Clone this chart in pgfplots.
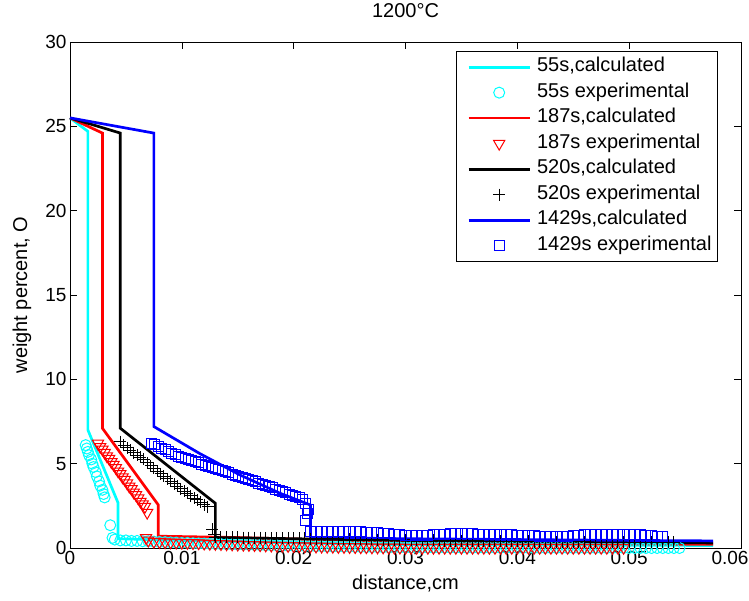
\documentclass[border=0pt]{standalone}
\usepackage{fontspec}
\setmainfont{Liberation Sans}
\usepackage{pgfplots}
\pgfplotsset{compat=1.18}
\definecolor{mcyan}{rgb}{0,1,1}
\definecolor{mred}{rgb}{1,0,0}
\definecolor{mblue}{rgb}{0,0,1}
\newcommand{\f}{\fontsize{19}{22}\selectfont}
\newcommand{\fl}{\fontsize{20}{23}\selectfont}
\begin{document}
\begin{tikzpicture}
\begin{axis}[
 scale only axis, width=671pt, height=506pt,
 xmin=0, xmax=0.06, ymin=0, ymax=30,
 scaled x ticks=false, scaled y ticks=false,
 xtick={0,0.01,0.02,0.03,0.04,0.05,0.06},
 xticklabels={0,0.01,0.02,0.03,0.04,0.05,\hspace*{-22pt}0.06},
 ytick={0,5,10,15,20,25,30},
 yticklabels={0,5,10,15,20,25,30},
 tick align=inside, major tick length=7pt,
 tick style={black, line width=0.6pt},
 axis line style={line width=0.8pt},
 tick label style={font=\f},
 clip=false,
 title={1200°C},
 title style={at={(rel axis cs:0.5,1.0494)}, anchor=center, font=\fl},
 xlabel={distance,cm},
 xlabel style={at={(rel axis cs:0.5,-0.0711)}, anchor=center, font=\fl},
 ylabel={weight percent, O},
 ylabel style={at={(rel axis cs:-0.0715,0.5)}, anchor=center, font=\fl},
 legend style={at={(rel axis cs:1,1)}, anchor=north east, xshift=-23pt, yshift=-9pt,
   draw=black, line width=0.8pt, font=\fl, inner xsep=0pt, inner ysep=4pt, row sep=2pt,
   nodes={inner xsep=6pt, inner ysep=2pt, text height=14.5pt, text depth=5pt}},
 legend cell align=left,
 legend image code/.code={\path[draw=none,fill=none] (0pt,0pt) -- (74pt,0pt);\draw[mark repeat=2,mark phase=2,#1] plot coordinates {(12pt,0pt) (42.5pt,0pt) (73pt,0pt)};},
]
% 55s calculated
\addplot[mcyan, line width=2.7pt, mark=none] coordinates {
(0,25.5)(0.0016,24.7)(0.0016,7.0)(0.0043,2.67)(0.0043,0.55)(0.01,0.45)(0.02,0.30)(0.03,0.20)(0.0575,0.15)};
\addlegendentry{55s,calculated}
% 55s experimental
\addplot[mcyan, only marks, mark=o, mark size=5.5pt, line width=1pt] coordinates {
(0.0014,6.10)(0.0015,5.90)(0.0016,5.70)(0.0017,5.50)(0.0019,5.25)(0.0020,5.00)(0.0021,4.80)(0.0023,4.50)(0.0024,4.25)(0.0026,3.95)(0.0027,3.70)(0.0029,3.45)(0.0030,3.20)(0.0031,3.00)(0.0036,1.35)(0.0038,0.60)
(0.0040,0.50)(0.0045,0.45)(0.0050,0.45)(0.0055,0.42)(0.0060,0.42)(0.0065,0.40)(0.0070,0.40)(0.0075,0.38)(0.0080,0.36)(0.0085,0.35)(0.0090,0.33)(0.0095,0.32)
(0.0100,0.30)(0.0105,0.30)(0.0110,0.28)(0.0115,0.27)(0.0120,0.26)(0.0125,0.25)(0.0130,0.24)(0.0135,0.23)(0.0140,0.22)(0.0145,0.21)
(0.0150,0.20)(0.0155,0.20)(0.0160,0.19)(0.0165,0.18)(0.0170,0.17)(0.0175,0.16)(0.0180,0.16)(0.0185,0.15)(0.0190,0.14)(0.0195,0.13)
(0.0200,0.13)(0.0205,0.12)(0.0210,0.11)(0.0215,0.11)(0.0220,0.10)(0.0225,0.10)(0.0230,0.09)(0.0235,0.08)(0.0240,0.08)(0.0245,0.07)
(0.0250,0.07)(0.0255,0.06)(0.0260,0.06)(0.0265,0.05)(0.0270,0.05)(0.0275,0.05)(0.0280,0.04)(0.0285,0.04)(0.0290,0.04)(0.0295,0.03)
(0.0300,0.03)(0.0305,0.03)(0.0310,0.02)(0.0315,0.02)(0.0320,0.02)(0.0325,0.02)(0.0330,0.02)(0.0335,0.02)(0.0340,0.02)(0.0345,0.02)
(0.0350,0.01)(0.0355,0.01)(0.0360,0.01)(0.0365,0.01)(0.0370,0.01)(0.0375,0.01)(0.0380,0.01)(0.0385,0.01)(0.0390,0.01)(0.0395,0.01)
(0.0400,0.00)(0.0405,0.00)(0.0410,0.00)(0.0415,0.00)(0.0420,0.00)(0.0425,0.00)(0.0430,0.00)(0.0435,0.00)(0.0440,0.00)(0.0445,0.00)
(0.0450,0.00)(0.0455,0.00)(0.0460,0.00)(0.0465,0.00)(0.0470,0.00)(0.0475,0.00)(0.0480,0.00)(0.0485,0.00)(0.0490,0.00)(0.0495,0.00)
(0.0500,0.00)(0.0505,0.00)(0.0510,0.00)(0.0515,0.00)(0.0520,0.00)(0.0525,0.00)(0.0530,0.00)(0.0535,0.00)(0.0540,0.00)(0.0545,0.00)};
\addlegendentry{55s experimental}
% 187s calculated
\addplot[mred, line width=2.7pt, mark=none] coordinates {
(0,25.5)(0.0029,24.6)(0.0029,7.1)(0.0079,2.55)(0.0079,0.70)(0.015,0.62)(0.025,0.45)(0.035,0.30)(0.045,0.25)(0.0575,0.22)};
\addlegendentry{187s,calculated}
% 187s experimental
\addplot[mred, only marks, mark=triangle, mark options={rotate=180}, mark size=6.5pt, line width=1pt] coordinates {
(0.0025,6.20)(0.0027,6.00)(0.0029,5.85)(0.0031,5.65)(0.0033,5.45)(0.0035,5.30)(0.0037,5.10)(0.0039,4.95)(0.0041,4.75)(0.0043,4.55)(0.0045,4.40)(0.0047,4.20)
(0.0049,4.05)(0.0051,3.85)(0.0053,3.65)(0.0055,3.50)(0.0057,3.30)(0.0059,3.15)(0.0061,2.95)(0.0063,2.75)(0.0065,2.60)(0.0067,2.45)(0.0069,2.10)
(0.0068,0.60)(0.0070,0.45)(0.0075,0.38)(0.0080,0.36)(0.0085,0.35)(0.0090,0.34)(0.0095,0.33)
(0.0100,0.32)(0.0105,0.31)(0.0110,0.30)(0.0115,0.29)(0.0120,0.27)(0.0125,0.26)(0.0130,0.25)(0.0135,0.24)(0.0140,0.23)(0.0145,0.22)
(0.0150,0.21)(0.0155,0.20)(0.0160,0.19)(0.0165,0.18)(0.0170,0.17)(0.0175,0.16)(0.0180,0.15)(0.0185,0.14)(0.0190,0.14)(0.0195,0.13)
(0.0200,0.12)(0.0205,0.11)(0.0210,0.11)(0.0215,0.10)(0.0220,0.09)(0.0225,0.09)(0.0230,0.08)(0.0235,0.08)(0.0240,0.07)(0.0245,0.07)
(0.0250,0.06)(0.0255,0.06)(0.0260,0.05)(0.0265,0.05)(0.0270,0.04)(0.0275,0.04)(0.0280,0.04)(0.0285,0.03)(0.0290,0.03)(0.0295,0.03)
(0.0300,0.02)(0.0305,0.02)(0.0310,0.02)(0.0315,0.02)(0.0320,0.02)(0.0325,0.02)(0.0330,0.02)(0.0335,0.02)(0.0340,0.02)(0.0345,0.02)
(0.0350,0.02)(0.0355,0.02)(0.0360,0.02)(0.0365,0.02)(0.0370,0.02)(0.0375,0.02)(0.0380,0.02)(0.0385,0.02)(0.0390,0.02)(0.0395,0.02)
(0.0400,0.02)(0.0405,0.02)(0.0410,0.02)(0.0415,0.02)(0.0420,0.02)(0.0425,0.02)(0.0430,0.02)(0.0435,0.02)(0.0440,0.02)(0.0445,0.02)
(0.0450,0.02)(0.0455,0.02)(0.0460,0.02)(0.0465,0.02)(0.0470,0.02)(0.0475,0.02)(0.0480,0.02)(0.0485,0.02)(0.0490,0.02)(0.0495,0.02)};
\addlegendentry{187s experimental}
% 520s calculated
\addplot[black, line width=2.7pt, mark=none] coordinates {
(0,25.5)(0.0045,24.6)(0.0045,7.1)(0.0130,2.65)(0.0130,0.62)(0.02,0.55)(0.03,0.45)(0.04,0.38)(0.05,0.33)(0.0575,0.30)};
\addlegendentry{520s,calculated}
% 520s experimental
\addplot[black, only marks, mark=+, mark size=6pt, line width=1pt] coordinates {
(0.0045,6.30)(0.0048,6.10)(0.0051,5.95)(0.0054,5.80)(0.0057,5.65)(0.0060,5.50)(0.0063,5.38)(0.0066,5.25)(0.0069,5.05)(0.0072,4.88)(0.0075,4.72)(0.0078,4.56)
(0.0081,4.40)(0.0084,4.25)(0.0087,4.10)(0.0090,3.95)(0.0093,3.80)(0.0096,3.65)(0.0099,3.50)(0.0102,3.35)(0.0105,3.25)(0.0108,3.10)(0.0111,2.95)(0.0114,2.85)
(0.0117,2.70)(0.0120,2.55)(0.0123,2.45)(0.0127,1.10)(0.0129,0.80)
(0.0130,0.65)(0.0135,0.64)(0.0140,0.64)(0.0145,0.63)(0.0150,0.63)(0.0155,0.62)(0.0160,0.62)(0.0165,0.61)(0.0170,0.61)(0.0175,0.60)
(0.0180,0.60)(0.0185,0.59)(0.0190,0.59)(0.0195,0.58)(0.0200,0.58)(0.0205,0.57)(0.0210,0.57)(0.0215,0.56)(0.0220,0.56)(0.0225,0.55)
(0.0230,0.55)(0.0235,0.54)(0.0240,0.54)(0.0245,0.53)(0.0250,0.53)(0.0255,0.52)(0.0260,0.52)(0.0265,0.51)(0.0270,0.51)(0.0275,0.50)
(0.0280,0.50)(0.0285,0.49)(0.0290,0.49)(0.0295,0.48)(0.0300,0.48)(0.0305,0.47)(0.0310,0.47)(0.0315,0.46)(0.0320,0.46)(0.0325,0.45)
(0.0330,0.45)(0.0335,0.44)(0.0340,0.44)(0.0345,0.43)(0.0350,0.43)(0.0355,0.42)(0.0360,0.42)(0.0365,0.42)(0.0370,0.41)(0.0375,0.41)
(0.0380,0.41)(0.0385,0.40)(0.0390,0.40)(0.0395,0.40)(0.0400,0.39)(0.0405,0.39)(0.0410,0.39)(0.0415,0.38)(0.0420,0.38)(0.0425,0.38)
(0.0430,0.37)(0.0435,0.37)(0.0440,0.37)(0.0445,0.36)(0.0450,0.36)(0.0455,0.36)(0.0460,0.36)(0.0465,0.35)(0.0470,0.35)(0.0475,0.35)
(0.0480,0.35)(0.0485,0.35)(0.0490,0.34)(0.0495,0.34)(0.0500,0.34)(0.0505,0.34)(0.0510,0.34)(0.0515,0.33)(0.0520,0.33)(0.0525,0.33)
(0.0530,0.33)(0.0535,0.33)(0.0540,0.33)};
\addlegendentry{520s experimental}
% 1429s calculated
\addplot[mblue, line width=2.7pt, mark=none] coordinates {
(0,25.5)(0.0075,24.6)(0.0075,7.2)(0.0116,5.6)(0.0152,4.33)(0.0188,3.24)(0.0215,2.55)(0.0215,0.62)(0.03,0.55)(0.04,0.50)(0.05,0.45)(0.0575,0.42)};
\addlegendentry{1429s,calculated}
% 1429s experimental
\addplot[mblue, only marks, mark=square, mark size=5pt, line width=1pt] coordinates {
(0.0073,6.20)(0.0076,6.12)(0.0079,6.02)(0.0082,5.92)(0.0085,5.82)(0.0088,5.73)(0.0091,5.63)(0.0094,5.53)(0.0097,5.44)(0.0100,5.37)
(0.0103,5.30)(0.0106,5.24)(0.0109,5.17)(0.0112,5.11)(0.0115,5.04)(0.0118,4.97)(0.0121,4.91)(0.0124,4.84)(0.0127,4.78)(0.0130,4.71)
(0.0133,4.64)(0.0136,4.58)(0.0139,4.51)(0.0142,4.45)(0.0145,4.38)(0.0148,4.31)(0.0151,4.25)(0.0154,4.18)(0.0157,4.12)(0.0160,4.05)
(0.0163,3.98)(0.0166,3.92)(0.0169,3.85)(0.0172,3.78)(0.0175,3.71)(0.0178,3.63)(0.0181,3.56)(0.0184,3.49)(0.0187,3.41)(0.0190,3.34)
(0.0193,3.27)(0.0196,3.19)(0.0199,3.12)(0.0202,3.05)(0.0205,2.97)(0.0208,2.85)(0.0211,2.65)(0.0213,2.30)(0.0212,2.05)(0.0211,1.65)
(0.0215,1.00)(0.0220,1.00)(0.0225,1.00)(0.0230,1.00)(0.0235,1.00)(0.0240,1.00)(0.0245,1.00)(0.0250,1.00)(0.0255,0.98)(0.0260,0.95)
(0.0265,0.93)(0.0270,0.90)(0.0275,0.90)(0.0280,0.88)(0.0285,0.85)(0.0290,0.80)(0.0295,0.78)(0.0300,0.75)(0.0305,0.75)(0.0310,0.72)
(0.0315,0.72)(0.0320,0.75)(0.0325,0.78)(0.0330,0.80)(0.0335,0.82)(0.0340,0.85)(0.0345,0.85)(0.0350,0.85)(0.0355,0.85)(0.0360,0.85)
(0.0365,0.83)(0.0370,0.82)(0.0375,0.80)(0.0380,0.80)(0.0385,0.80)(0.0390,0.78)(0.0395,0.78)(0.0400,0.75)(0.0405,0.75)(0.0410,0.73)
(0.0415,0.72)(0.0420,0.70)(0.0425,0.70)(0.0430,0.70)(0.0435,0.68)(0.0440,0.68)(0.0445,0.70)(0.0450,0.72)(0.0455,0.75)(0.0460,0.78)
(0.0465,0.80)(0.0470,0.80)(0.0475,0.82)(0.0480,0.82)(0.0485,0.82)(0.0490,0.80)(0.0495,0.80)(0.0500,0.80)(0.0505,0.80)(0.0510,0.78)
(0.0515,0.75)(0.0520,0.72)(0.0525,0.70)(0.0530,0.70)};
\addlegendentry{1429s experimental}
\end{axis}
\pgfresetboundingbox
\path ([shift={(-70pt,-52pt)}]current axis.south west) rectangle ([shift={(8pt,42pt)}]current axis.north east);
\end{tikzpicture}
\end{document}
